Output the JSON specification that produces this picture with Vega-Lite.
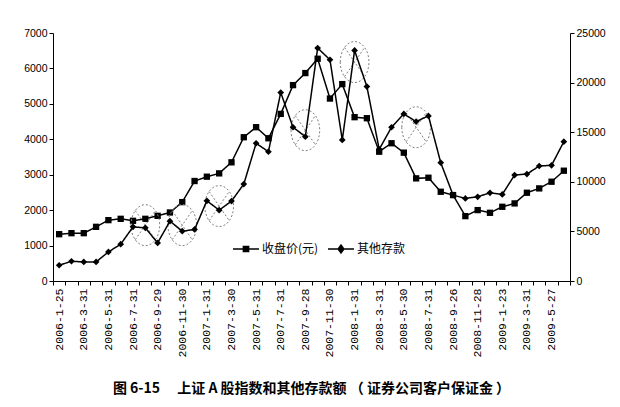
{
  "$schema": "https://vega.github.io/schema/vega-lite/v6.json",
  "width": 517,
  "height": 248,
  "autosize": "none",
  "padding": {"left": 53, "top": 33, "right": 50, "bottom": 126},
  "background": "white",
  "title": {
    "text": "图 6-15\u3000 上证 A 股指数和其他存款额 （ 证券公司客户保证金 ）",
    "orient": "bottom",
    "anchor": "middle",
    "offset": 25,
    "font": "Noto Sans CJK SC",
    "fontSize": 14,
    "fontWeight": "bold",
    "color": "black"
  },
  "data": {
    "values": [
      {"date": "2006-1-25", "close": 1321, "deposit": 1587},
      {"date": "2006-2-28", "close": 1350, "deposit": 1991},
      {"date": "2006-3-31", "close": 1350, "deposit": 1920},
      {"date": "2006-4-28", "close": 1529, "deposit": 1920},
      {"date": "2006-5-31", "close": 1718, "deposit": 2930},
      {"date": "2006-6-30", "close": 1755, "deposit": 3709},
      {"date": "2006-7-31", "close": 1699, "deposit": 5457},
      {"date": "2006-8-31", "close": 1755, "deposit": 5356, "note": 1576},
      {"date": "2006-9-29", "close": 1840, "deposit": 3840},
      {"date": "2006-10-31", "close": 1934, "deposit": 6033},
      {"date": "2006-11-30", "close": 2227, "deposit": 5022, "note": 1576},
      {"date": "2006-12-29", "close": 2822, "deposit": 5194},
      {"date": "2007-1-31", "close": 2944, "deposit": 8084},
      {"date": "2007-2-28", "close": 3038, "deposit": 7144, "note": 2114},
      {"date": "2007-3-30", "close": 3350, "deposit": 8054},
      {"date": "2007-4-30", "close": 4058, "deposit": 9771},
      {"date": "2007-5-31", "close": 4341, "deposit": 13885},
      {"date": "2007-6-29", "close": 4029, "deposit": 13036},
      {"date": "2007-7-31", "close": 4717, "deposit": 18998},
      {"date": "2007-8-31", "close": 5529, "deposit": 15501},
      {"date": "2007-9-28", "close": 5869, "deposit": 14552, "note": 4256},
      {"date": "2007-10-31", "close": 6273, "deposit": 23484},
      {"date": "2007-11-30", "close": 5150, "deposit": 22302},
      {"date": "2007-12-28", "close": 5557, "deposit": 14218},
      {"date": "2008-1-31", "close": 4624, "deposit": 23242, "note": 6180},
      {"date": "2008-2-29", "close": 4595, "deposit": 19604},
      {"date": "2008-3-31", "close": 3650, "deposit": 13278},
      {"date": "2008-4-30", "close": 3888, "deposit": 15501},
      {"date": "2008-5-30", "close": 3622, "deposit": 16845},
      {"date": "2008-6-30", "close": 2897, "deposit": 16068, "note": 4340},
      {"date": "2008-7-31", "close": 2915, "deposit": 16643},
      {"date": "2008-8-29", "close": 2519, "deposit": 11924},
      {"date": "2008-9-26", "close": 2425, "deposit": 8660},
      {"date": "2008-10-31", "close": 1831, "deposit": 8326},
      {"date": "2008-11-28", "close": 2001, "deposit": 8488},
      {"date": "2008-12-31", "close": 1925, "deposit": 8892},
      {"date": "2009-1-23", "close": 2095, "deposit": 8731},
      {"date": "2009-2-27", "close": 2190, "deposit": 10681},
      {"date": "2009-3-31", "close": 2491, "deposit": 10782},
      {"date": "2009-4-30", "close": 2614, "deposit": 11591},
      {"date": "2009-5-27", "close": 2802, "deposit": 11658},
      {"date": "2009-6-30", "close": 3113, "deposit": 14046}
    ]
  },
  "encoding": {
    "x": {
      "field": "date",
      "type": "ordinal",
      "sort": null,
      "title": null,
      "scale": {"type": "band", "paddingInner": 0, "paddingOuter": 0},
      "axis": {
        "labelAngle": 270,
        "labelAlign": "right",
        "labelBaseline": "middle",
        "labelPadding": 3,
        "labelFont": "Liberation Mono",
        "labelFontSize": 11.5,
        "labelColor": "black",
        "labelOverlap": false,
        "labelExpr": "test(regexp('^[0-9]{4}-(1|3|5|7|9|11)-'), datum.label) ? datum.label : ''",
        "tickBand": "extent",
        "tickSize": 4,
        "tickColor": "black",
        "domainColor": "black",
        "grid": false
      }
    }
  },
  "layer": [
    {
      "encoding": {
        "y": {
          "field": "close",
          "type": "quantitative",
          "title": null,
          "scale": {"domain": [0, 7000], "nice": false},
          "axis": {
            "orient": "left",
            "values": [0, 1000, 2000, 3000, 4000, 5000, 6000, 7000],
            "format": "d",
            "labelFont": "Liberation Sans",
            "labelFontSize": 10.5,
            "labelColor": "black",
            "tickSize": 4,
            "tickColor": "black",
            "domainColor": "black",
            "grid": false
          }
        }
      },
      "layer": [
        {
          "mark": {"type": "line", "strokeWidth": 1.5},
          "encoding": {
            "color": {
              "datum": "收盘价(元)",
              "scale": {"range": ["black"]},
              "legend": {
                "title": null,
                "orient": "none",
                "legendX": 179,
                "legendY": 202,
                "labelFont": "Noto Sans CJK SC",
                "labelFontSize": 12,
                "labelColor": "black",
                "labelOffset": 2,
                "symbolType": "M-1,0L1,0M-0.2,-0.2L0.2,-0.2L0.2,0.2L-0.2,0.2Z",
                "symbolSize": 676,
                "symbolStrokeWidth": 1.5,
                "symbolStrokeColor": "black",
                "symbolFillColor": "black",
                "encode": {"symbols": {"update": {"fill": {"value": "black"}, "stroke": {"value": "black"}}}}
              }
            }
          }
        },
        {"mark": {"type": "point", "shape": "square", "filled": true, "color": "black", "size": 40, "opacity": 1}},
        {
          "mark": {
            "type": "point",
            "shape": "M-0.7,0A0.7,1,0,1,1,0.7,0A0.7,1,0,1,1,-0.7,0ZM-0.49,-0.71L0.49,0.71M-0.49,0.71L0.49,-0.71",
            "size": 1681,
            "filled": false,
            "stroke": "#808080",
            "strokeWidth": 1,
            "strokeDash": [2, 2],
            "opacity": 1
          },
          "encoding": {
            "y": {
              "field": "note",
              "type": "quantitative",
              "title": null,
              "scale": {"domain": [0, 7000], "nice": false},
              "axis": {
                "orient": "left",
                "values": [0, 1000, 2000, 3000, 4000, 5000, 6000, 7000],
                "format": "d",
                "labelFont": "Liberation Sans",
                "labelFontSize": 10.5,
                "labelColor": "black",
                "tickSize": 4,
                "tickColor": "black",
                "domainColor": "black",
                "grid": false
              }
            }
          }
        }
      ]
    },
    {
      "encoding": {
        "y": {
          "field": "deposit",
          "type": "quantitative",
          "title": null,
          "scale": {"domain": [0, 25000], "nice": false},
          "axis": {
            "orient": "right",
            "values": [0, 5000, 10000, 15000, 20000, 25000],
            "format": "d",
            "labelFont": "Liberation Sans",
            "labelFontSize": 10.5,
            "labelColor": "black",
            "tickSize": 4,
            "tickColor": "black",
            "domainColor": "black",
            "grid": false
          }
        }
      },
      "layer": [
        {
          "mark": {"type": "line", "color": "black", "strokeWidth": 1.5},
          "encoding": {
            "strokeDash": {
              "datum": "其他存款",
              "scale": {"range": [[1, 0]]},
              "legend": {
                "title": null,
                "orient": "none",
                "legendX": 274,
                "legendY": 202,
                "labelFont": "Noto Sans CJK SC",
                "labelFontSize": 12,
                "labelColor": "black",
                "labelOffset": 2,
                "symbolType": "M-1,0L1,0M0,-0.3L0.22,0L0,0.3L-0.22,0Z",
                "symbolSize": 676,
                "symbolStrokeWidth": 1.5,
                "symbolStrokeColor": "black",
                "symbolFillColor": "black",
                "encode": {"symbols": {"update": {"fill": {"value": "black"}, "stroke": {"value": "black"}}}}
              }
            }
          }
        },
        {"mark": {"type": "point", "shape": "diamond", "filled": true, "color": "black", "size": 45, "opacity": 1}}
      ]
    }
  ],
  "resolve": {"scale": {"y": "independent"}},
  "config": {
    "view": {"stroke": null}
  }
}
